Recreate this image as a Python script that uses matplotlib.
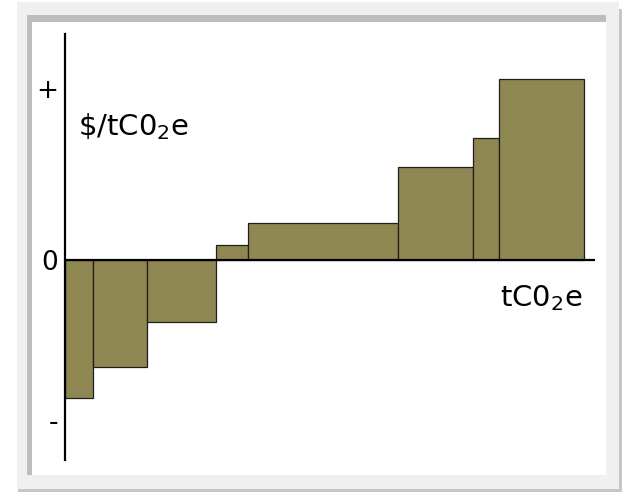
# marginal abatement cost curve, sketch style with a framed panel
import numpy as np
import matplotlib
matplotlib.use('Agg')
import matplotlib.pyplot as plt
from matplotlib.patches import Rectangle

plt.rcParams['mathtext.default'] = 'regular'

# abatement per measure (tC02e) and cost per measure ($/tC02e)
widths = [2.8, 5.4, 6.9, 3.2, 15.0, 7.5, 2.6, 8.5]
costs = [-13.8, -10.7, -6.2, 1.5, 3.7, 9.3, 12.2, 18.1]
tick_pos = [17.2, 0.0, -16.0]
tick_labels = ['+', '0', '-']

BAR_COLOR = '#8f8752'
W, H = 623, 492

fig = plt.figure(figsize=(W / 100, H / 100), dpi=100, facecolor='white')

# background frame drawn in pixel units
bg = fig.add_axes([0, 0, 1, 1])
bg.set_xlim(0, W)
bg.set_ylim(H, 0)
bg.axis('off')
bg.add_patch(Rectangle((18, 9), 604, 483, color='#c6c6c6', lw=0))
bg.add_patch(Rectangle((17, 2), 602, 487, color='#f0f0f0', lw=0))
bg.add_patch(Rectangle((27, 15), 579, 460, color='#bdbdbd', lw=0))
bg.add_patch(Rectangle((32, 22), 574, 453, color='white', lw=0))

# main chart
ax = fig.add_axes([65 / W, (H - 460) / H, 530 / W, 426 / H])
ax.patch.set_visible(False)
lefts = np.concatenate([[0], np.cumsum(widths)[:-1]])
ax.bar(lefts, costs, width=widths, align='edge', color=BAR_COLOR,
       edgecolor='#1e1e1e', linewidth=0.9, zorder=2)
ax.axhline(0, color='black', lw=1.6, zorder=3)

ax.set_xlim(0, 53.0)
ax.set_ylim(-20.0, 22.6)
for s in ['top', 'right', 'bottom']:
    ax.spines[s].set_visible(False)
ax.spines['left'].set_linewidth(1.6)
ax.spines['left'].set_zorder(4)
ax.set_xticks([])
ax.set_yticks(tick_pos)
ax.set_yticklabels(tick_labels, fontsize=19)
ax.tick_params(axis='y', length=0, pad=5)

ax.text(1.3, 13.3, r'\$/tC0$_2$e', fontsize=21, va='center', ha='left')
ax.text(43.5, -3.8, r'tC0$_2$e', fontsize=21, va='center', ha='left')

fig.savefig('out.png', dpi=100)
